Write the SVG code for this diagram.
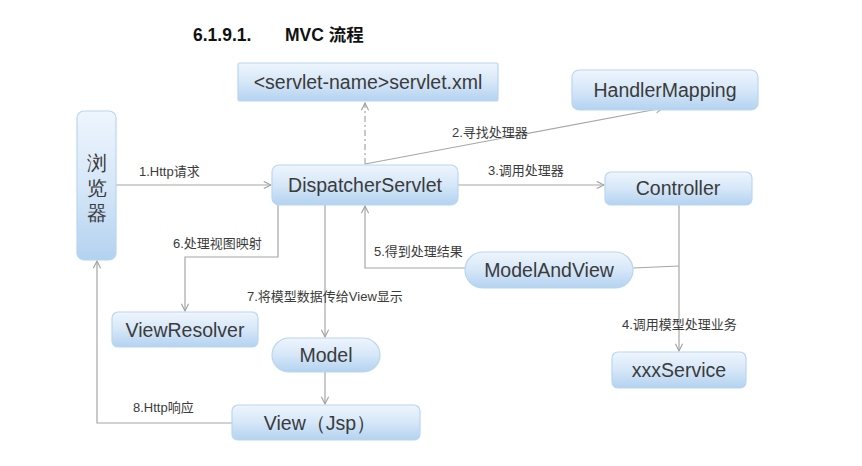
<svg xmlns="http://www.w3.org/2000/svg" width="862" height="466" viewBox="0 0 862 466">
<defs>
<linearGradient id="g" x1="0" y1="0" x2="0" y2="1">
<stop offset="0" stop-color="#eef5fd"/>
<stop offset="0.5" stop-color="#d6e7f8"/>
<stop offset="1" stop-color="#b3d2f0"/>
</linearGradient>
<marker id="a" viewBox="0 0 10 10" refX="9" refY="5" markerWidth="9" markerHeight="9" markerUnits="userSpaceOnUse" orient="auto">
<path d="M1,1 L9,5 L1,9" fill="none" stroke="#a0a0a0" stroke-width="1.2"/>
</marker>
<style>
.n{fill:url(#g);stroke:#b9d6f1;stroke-width:1.2}
.t{font-family:"Liberation Sans",Arial,sans-serif;font-size:19.5px;fill:#3b3b3b;text-anchor:middle}
.c{fill:none;stroke:#a6a6a6;stroke-width:1.2}
.l{font-family:"Liberation Sans","Noto Sans CJK SC",sans-serif;font-size:13px;fill:#3b3b3b}
</style>
</defs>
<rect width="862" height="466" fill="#ffffff"/>
<text x="193" y="41" font-family="Liberation Sans,Arial,sans-serif" font-weight="bold" font-size="17.5" fill="#111">6.1.9.1.</text>
<text x="285" y="41" font-family="Liberation Sans,'Noto Sans CJK SC',sans-serif" font-weight="bold" font-size="17.5" fill="#111">MVC 流程</text>

<g id="connectors">
<line class="c" x1="116" y1="185" x2="271" y2="185" marker-end="url(#a)"/>
<line class="c" x1="365" y1="164" x2="663" y2="108" marker-end="url(#a)"/>
<line class="c" x1="365" y1="164" x2="365" y2="103" stroke-dasharray="6,3,2,3" marker-end="url(#a)"/>
<line class="c" x1="458" y1="185" x2="604" y2="185" marker-end="url(#a)"/>
<line class="c" x1="679" y1="205" x2="679" y2="351" marker-end="url(#a)"/>
<line class="c" x1="633" y1="268" x2="679" y2="266"/>
<polyline class="c" points="465,268 365,268 365,206" marker-end="url(#a)"/>
<polyline class="c" points="278,205 278,257 185,257 185,311" marker-end="url(#a)"/>
<line class="c" x1="325" y1="205" x2="325" y2="337" marker-end="url(#a)"/>
<line class="c" x1="325" y1="372" x2="325" y2="404" marker-end="url(#a)"/>
<polyline class="c" points="232,423 97,423 97,261" marker-end="url(#a)"/>
<text class="l" x="139" y="176">1.Http请求</text>
<text class="l" x="452" y="137">2.寻找处理器</text>
<text class="l" x="488" y="175">3.调用处理器</text>
<text class="l" x="622" y="329">4.调用模型处理业务</text>
<text class="l" x="374" y="256">5.得到处理结果</text>
<text class="l" x="173" y="248">6.处理视图映射</text>
<text class="l" x="247" y="301">7.将模型数据传给View显示</text>
<text class="l" x="133" y="412">8.Http响应</text>
</g>

<g id="servletxml">
<rect class="n" x="238" y="63" width="260" height="38" rx="2"/>
<text class="t" x="368" y="89">&lt;servlet-name&gt;servlet.xml</text>
</g>
<g id="handlermapping">
<rect class="n" x="572" y="70" width="186" height="40" rx="7"/>
<text class="t" x="665" y="97">HandlerMapping</text>
</g>
<g id="browser">
<rect class="n" x="77" y="111" width="39" height="149" rx="7"/>
<text class="t" x="96.5" y="170" font-family="'Noto Sans CJK SC',sans-serif" font-size="21">浏</text>
<text class="t" x="96.5" y="195" font-family="'Noto Sans CJK SC',sans-serif" font-size="21">览</text>
<text class="t" x="96.5" y="220" font-family="'Noto Sans CJK SC',sans-serif" font-size="21">器</text>
</g>
<g id="dispatcher">
<rect class="n" x="272" y="165" width="186" height="40" rx="7"/>
<text class="t" x="365" y="192">DispatcherServlet</text>
</g>
<g id="controller">
<rect class="n" x="605" y="172" width="147" height="33" rx="6"/>
<text class="t" x="678" y="195">Controller</text>
</g>
<g id="modelandview">
<rect class="n" x="465" y="252" width="168" height="36" rx="18"/>
<text class="t" x="549" y="277">ModelAndView</text>
</g>
<g id="viewresolver">
<rect class="n" x="112" y="312" width="146" height="35" rx="6"/>
<text class="t" x="185" y="337">ViewResolver</text>
</g>
<g id="model">
<rect class="n" x="272" y="338" width="108" height="34" rx="17"/>
<text class="t" x="326" y="362">Model</text>
</g>
<g id="xxxservice">
<rect class="n" x="612" y="352" width="134" height="36" rx="6"/>
<text class="t" x="679" y="377">xxxService</text>
</g>
<g id="view">
<rect class="n" x="232" y="405" width="188" height="35" rx="6"/>
<text class="t" x="320" y="430" font-family="'Liberation Sans','Noto Sans CJK SC',sans-serif">View（Jsp）</text>
</g>
</svg>
